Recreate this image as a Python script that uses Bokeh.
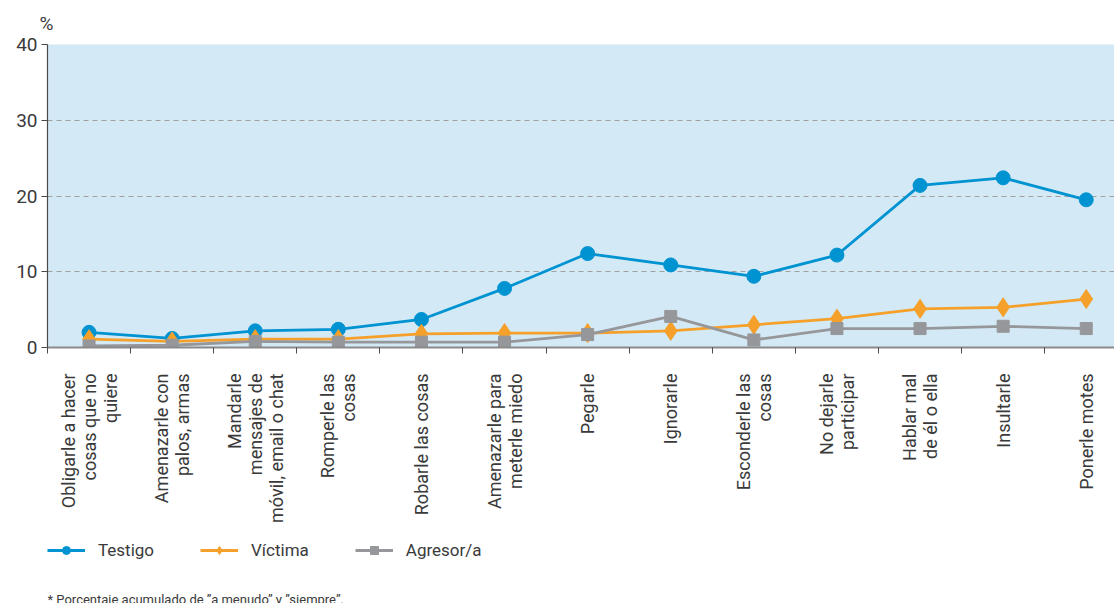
import math
from bokeh.plotting import figure
from bokeh.layouts import column
from bokeh.models import Range1d, FixedTicker, Legend, LegendItem, Title, Label
from bokeh.core.properties import value
from bokeh.embed import file_html
from bokeh.resources import INLINE

categories = [
    "Obligarle a hacer\ncosas que no\nquiere",
    "Amenazarle con\npalos, armas",
    "Mandarle\nmensajes de\nmóvil, email o chat",
    "Romperle las\ncosas",
    "Robarle las cosas",
    "Amenazarle para\nmeterle miedo",
    "Pegarle",
    "Ignorarle",
    "Esconderle las\ncosas",
    "No dejarle\nparticipar",
    "Hablar mal\nde él o ella",
    "Insultarle",
    "Ponerle motes",
]
testigo = [2.0, 1.2, 2.2, 2.4, 3.7, 7.8, 12.4, 10.9, 9.4, 12.2, 21.4, 22.4, 19.5]
victima = [1.1, 0.8, 1.1, 1.1, 1.8, 1.9, 1.9, 2.2, 3.0, 3.8, 5.1, 5.3, 6.4]
agresor = [0.2, 0.3, 0.8, 0.7, 0.7, 0.7, 1.7, 4.1, 1.0, 2.5, 2.5, 2.8, 2.5]
y_ticks = [0, 10, 20, 30, 40]
series_names = ["Testigo", "Víctima", "Agresor/a"]
note_text = "* Porcentaje acumulado de \u201da menudo\u201d y \u201dsiempre\u201d."

BLUE = "#0093d1"
ORANGE = "#f5a02a"
GRAY = "#96979a"
TEXT = "#3a3a3a"
FONT = "Roboto"

n = len(categories)
xs = [i + 0.5 for i in range(n)]
boundaries = list(range(n))
xr = Range1d(0, 12.84)

series = [(testigo, BLUE, "circle", 14), (victima, ORANGE, "diamond", 19),
          (agresor, GRAY, "square", 12)]

# ---------------- main chart ----------------
p = figure(frame_width=1067, frame_height=303, output_backend="svg", toolbar_location=None,
           x_range=xr, y_range=Range1d(0, 40),
           min_border_left=47, min_border_right=0, min_border_top=44,
           min_border_bottom=14)
p.background_fill_color = "#d4e9f6"
p.border_fill_color = "white"
p.outline_line_color = None

p.xgrid.visible = False
p.ygrid.ticker = FixedTicker(ticks=[10, 20, 30])
p.ygrid.grid_line_color = "#a0a0a0"
p.ygrid.grid_line_dash = "5 4"
p.ygrid.grid_line_width = 1

p.yaxis.ticker = FixedTicker(ticks=y_ticks)
p.yaxis.axis_line_color = "#4a4a4a"
p.yaxis.axis_line_width = 1.2
p.yaxis.major_tick_line_color = "#4a4a4a"
p.yaxis.major_tick_out = 6
p.yaxis.major_tick_in = 0
p.yaxis.minor_tick_line_color = None
p.yaxis.major_label_text_font = FONT
p.yaxis.major_label_text_font_size = "19px"
p.yaxis.major_label_text_color = TEXT
p.yaxis.major_label_standoff = 4

p.xaxis.ticker = FixedTicker(ticks=xs, minor_ticks=boundaries)
p.xaxis.major_label_overrides = {x: "" for x in xs}
p.xaxis.major_label_text_font_size = "0px"
p.xaxis.major_label_standoff = 0
p.xaxis.major_tick_line_color = None
p.xaxis.minor_tick_line_color = "#4a4a4a"
p.xaxis.minor_tick_out = 6
p.xaxis.minor_tick_in = 0
p.xaxis.axis_line_color = "#8a8a8a"
p.xaxis.axis_line_width = 1.8

for vals, col, mk, sz in series:
    p.line(xs, vals, line_color=col, line_width=2.8)
    p.scatter(xs, vals, marker=mk, size=sz, fill_color=col, line_color=col)

pct = Title(text="%", align="left", offset=-8, text_font=FONT, text_font_size="19px",
            standoff=19, text_font_style="normal", text_color=TEXT)
p.add_layout(pct, "above")

# ---------------- labels, legend, note ----------------
H = 242
q = figure(frame_width=1067, frame_height=H, output_backend="svg", toolbar_location=None,
           x_range=xr, y_range=Range1d(-H, 0),
           min_border_left=47, min_border_right=0, min_border_top=0, min_border_bottom=0,
           x_axis_location=None, y_axis_location=None)
q.grid.visible = False
q.outline_line_color = None
q.background_fill_color = "white"

q.text(x=xs, y=[-12] * n, text=categories, angle=math.pi / 2,
       text_align="right", text_baseline="middle",
       text_font=value(FONT), text_font_size="18px", text_color=TEXT,
       text_line_height=1.0)

# legend renderers (hidden; only their legend swatches are drawn)
items = []
for name, (vals, col, mk, sz) in zip(series_names, series):
    r1 = q.line(xs, vals, line_color=col, line_width=2.8, visible=False)
    r2 = q.scatter(xs, vals, marker=mk, size=sz, fill_color=col, line_color=col,
                   visible=False)
    items.append(LegendItem(label=name, renderers=[r1, r2]))

legend = Legend(items=items, orientation="horizontal", location=(0, 43),
                glyph_width=38, glyph_height=20, label_standoff=13, spacing=46,
                padding=0, margin=0, border_line_color=None, background_fill_alpha=0,
                label_text_font=FONT, label_text_font_size="17px", label_text_color=TEXT)
q.add_layout(legend, "center")

note = Label(x=0, y=-230, text=note_text, text_baseline="top",
             text_font=FONT, text_font_size="13px", text_color=TEXT)
q.add_layout(note)

layout = column(p, q, spacing=0)
open("out.html", "w").write(file_html(layout, INLINE))
